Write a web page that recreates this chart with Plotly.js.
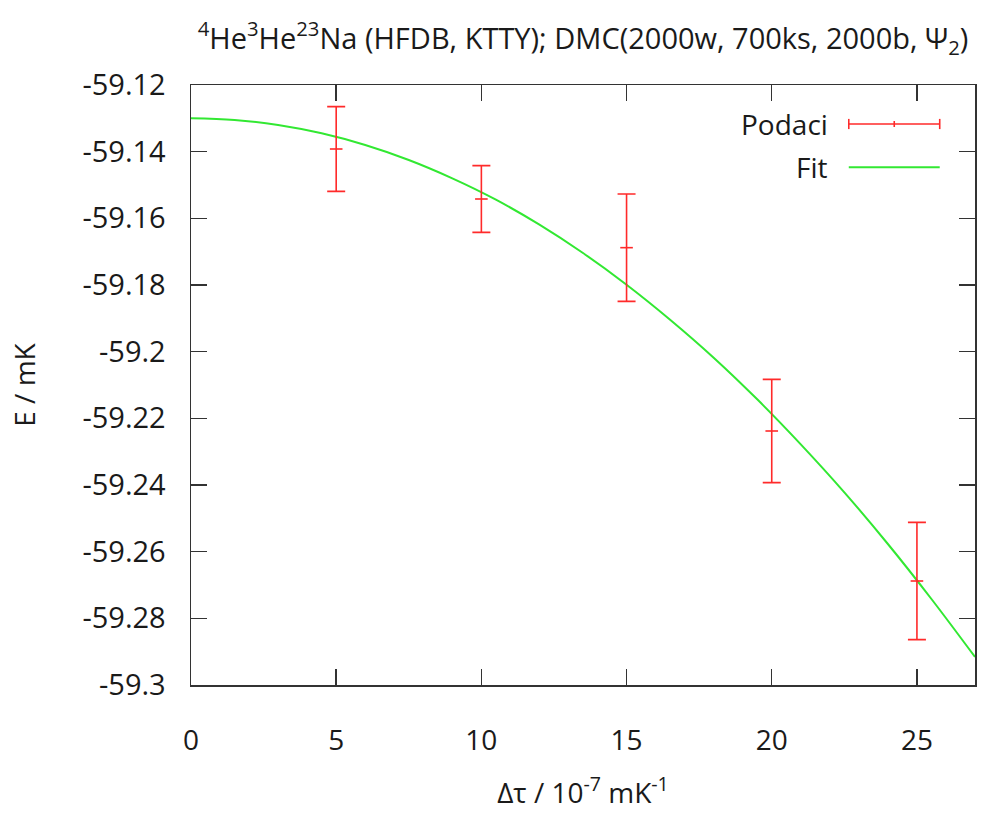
<!DOCTYPE html>
<html>
<head>
<meta charset="utf-8">
<script src="https://cdn.plot.ly/plotly-3.0.1.min.js"></script>
<style>
  html, body { margin: 0; padding: 0; background: #fff; }
  #chart { width: 1006px; height: 818px; }
</style>
</head>
<body>
<div id="chart"></div>
<script>
// ---- data ----
const dtau = [5, 10, 15, 20, 25];
const energy = [-59.1392, -59.1542, -59.1688, -59.2238, -59.2688];
const energyErr = [0.0127, 0.0100, 0.0161, 0.0155, 0.0176];

const fitX = [0, 1.5, 3, 4.5, 6, 7.5, 9, 10.5, 12, 13.5, 15, 16.5, 18, 19.5, 21, 22.5, 24, 25.5, 27];
const fitY = [-59.1300, -59.1305, -59.1320, -59.1345, -59.1380, -59.1425, -59.1480, -59.1544, -59.1619, -59.1704,
              -59.1799, -59.1904, -59.2018, -59.2143, -59.2278, -59.2422, -59.2577, -59.2742, -59.2916];

const xTickVals = [0, 5, 10, 15, 20, 25];
const xTickText = ['0', '5', '10', '15', '20', '25'];
const yTickVals = [-59.3, -59.28, -59.26, -59.24, -59.22, -59.2, -59.18, -59.16, -59.14, -59.12];
const yTickText = ['-59.3', '-59.28', '-59.26', '-59.24', '-59.22', '-59.2', '-59.18', '-59.16', '-59.14', '-59.12'];

const seriesNames = ['Podaci', 'Fit'];

const RED = '#ff2a2a';
const GREEN = 'rgb(50,232,50)';
const FONT = 'Open Sans, sans-serif';
const TXT = '#1a1a1a';
const AX = '#333333';

const traces = [
  {
    x: fitX, y: fitY, type: 'scatter', mode: 'lines', name: seriesNames[1],
    line: { color: GREEN, width: 2, shape: 'spline', smoothing: 1 },
    hoverinfo: 'skip', showlegend: false
  },
  {
    x: dtau, y: energy, type: 'scatter', mode: 'markers', name: seriesNames[0],
    marker: { symbol: 'line-ew', size: 9, color: RED, line: { color: RED, width: 1.6 } },
    error_y: { type: 'data', array: energyErr, visible: true, color: RED, thickness: 1.6, width: 9 },
    showlegend: false
  }
];

// manual gnuplot-style key (text left of the sample)
const keyY1 = 0.935, keyY2 = 0.863;
const keyX0 = 0.839, keyX1 = 0.955, keyXm = 0.897, keyTxt = 0.815;

const shapes = [
  { type: 'line', xref: 'paper', yref: 'paper', x0: keyX0, x1: keyX1, y0: keyY1, y1: keyY1, line: { color: RED, width: 1.6 } },
  { type: 'line', xref: 'paper', yref: 'paper', x0: keyX0, x1: keyX0, y0: keyY1 - 0.0085, y1: keyY1 + 0.0085, line: { color: RED, width: 1.6 } },
  { type: 'line', xref: 'paper', yref: 'paper', x0: keyX1, x1: keyX1, y0: keyY1 - 0.0085, y1: keyY1 + 0.0085, line: { color: RED, width: 1.6 } },
  { type: 'line', xref: 'paper', yref: 'paper', x0: keyXm, x1: keyXm, y0: keyY1 - 0.005, y1: keyY1 + 0.005, line: { color: RED, width: 1.6 } },
  { type: 'line', xref: 'paper', yref: 'paper', x0: keyX0, x1: keyX1, y0: keyY2, y1: keyY2, line: { color: GREEN, width: 2 } }
];

const annotations = [
  { xref: 'paper', yref: 'paper', x: keyTxt, y: keyY1, xanchor: 'right', yanchor: 'middle', showarrow: false,
    text: seriesNames[0], font: { family: FONT, size: 28, color: TXT } },
  { xref: 'paper', yref: 'paper', x: keyTxt, y: keyY2, xanchor: 'right', yanchor: 'middle', showarrow: false,
    text: seriesNames[1], font: { family: FONT, size: 28, color: TXT } }
];

const layout = {
  width: 1006, height: 818,
  paper_bgcolor: '#ffffff', plot_bgcolor: '#ffffff',
  margin: { l: 191, r: 31, t: 85, b: 133, pad: 0 },
  showlegend: false,
  title: {
    text: '<sup>4</sup>He<sup>3</sup>He<sup>23</sup>Na (HFDB, KTTY); DMC(2000w, 700ks, 2000b, Ψ<sub>2</sub>)',
    font: { family: FONT, size: 29, color: TXT },
    x: 0.5, xref: 'paper', xanchor: 'center',
    y: 0.953, yref: 'container', yanchor: 'middle'
  },
  xaxis: {
    range: [0, 27],
    tickmode: 'array', tickvals: xTickVals, ticktext: xTickText,
    ticks: 'inside', ticklen: 16, tickwidth: 1.5, tickcolor: AX,
    showline: true, linecolor: AX, linewidth: 1.5, mirror: 'ticks',
    showgrid: false, zeroline: false,
    tickfont: { family: FONT, size: 28, color: TXT },
    ticklabelstandoff: 30,
    title: { text: 'Δτ / 10<sup>-7</sup> mK<sup>-1</sup>', font: { family: FONT, size: 28, color: TXT }, standoff: 26 },
    automargin: false
  },
  yaxis: {
    range: [-59.3, -59.12],
    tickmode: 'array', tickvals: yTickVals, ticktext: yTickText,
    ticks: 'inside', ticklen: 16, tickwidth: 1.5, tickcolor: AX,
    showline: true, linecolor: AX, linewidth: 1.5, mirror: 'ticks',
    showgrid: false, zeroline: false,
    tickfont: { family: FONT, size: 29, color: TXT },
    ticklabelstandoff: 18,
    title: { text: 'E / mK', font: { family: FONT, size: 28, color: TXT }, standoff: 38 },
    automargin: false
  },
  shapes: shapes,
  annotations: annotations
};

Plotly.newPlot('chart', traces, layout, { displayModeBar: false, staticPlot: true });
</script>
</body>
</html>
